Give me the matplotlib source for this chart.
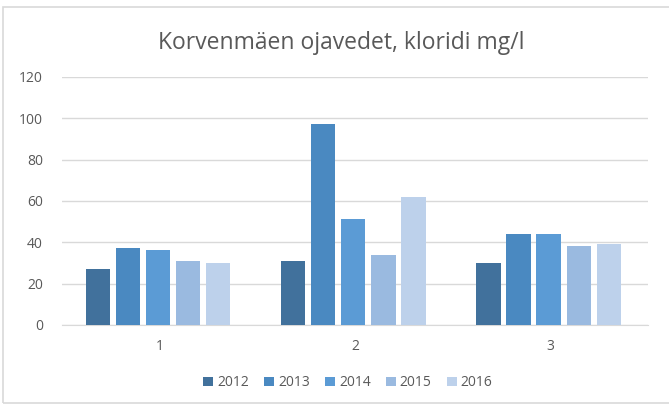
import numpy as np
import matplotlib.pyplot as plt
from matplotlib.patches import Rectangle

# data
categories = ["1", "2", "3"]
years = ["2012", "2013", "2014", "2015", "2016"]
values_2012 = [27, 31, 30]
values_2013 = [37, 97, 44]
values_2014 = [36, 51, 44]
values_2015 = [31, 34, 38]
values_2016 = [30, 62, 39]
series = [values_2012, values_2013, values_2014, values_2015, values_2016]
colors = ["#41719C", "#4A89C1", "#5B9BD5", "#9ABAE0", "#BDD1EB"]

plt.rcParams['font.family'] = ['Open Sans', 'DejaVu Sans']

fig = plt.figure(figsize=(6.69, 4.05), dpi=100)
ax = fig.add_axes([0.093, 0.198, 0.876, 0.612])

# chart border
fig.patches.append(Rectangle((0.005, 0.005), 1.2, 0.978, transform=fig.transFigure,
                             fill=False, edgecolor="#D9D9D9", linewidth=1.2))

x = np.arange(len(categories))
width = 0.125
step = 0.154
for i, (vals, col, yr) in enumerate(zip(series, colors, years)):
    ax.bar(x + (i - 2) * step - 0.01, vals, width, color=col, label=yr, zorder=3)

ax.set_xlim(-0.5, 2.5)
ax.set_ylim(0, 120)
ax.set_yticks(range(0, 121, 20))
ax.set_xticks(x)
ax.set_xticklabels(categories)
ax.grid(axis="y", color="#D9D9D9", linewidth=1, zorder=0)
for s in ["top", "right", "left"]:
    ax.spines[s].set_visible(False)
ax.spines["bottom"].set_color("#D9D9D9")
ax.tick_params(axis="both", length=0, labelsize=10, colors="#595959", pad=10)
ax.tick_params(axis="y", pad=14)

fig.text(0.51, 0.895, "Korvenmäen ojavedet, kloridi mg/l", ha="center", va="center",
         fontsize=16.5, color="#595959")

fig.legend(loc="center", bbox_to_anchor=(0.52, 0.055), ncol=5, frameon=False,
           fontsize=10, labelcolor="#595959", handlelength=0.7, handleheight=0.7,
           handletextpad=0.3, columnspacing=1.1)

fig.savefig("out.png", dpi=100)
